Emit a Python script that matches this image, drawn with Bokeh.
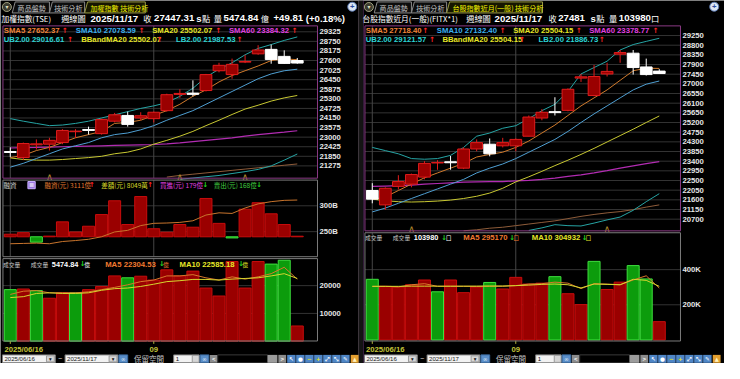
from bokeh.plotting import figure
from bokeh.models import Range1d, ColumnDataSource
from bokeh.embed import file_html
from bokeh.resources import INLINE
from bokeh.core.properties import value

# ---------------- data ----------------
weeks = ["2025/06/16", "2025/06/23", "2025/06/30", "2025/07/07", "2025/07/14", "2025/07/21",
         "2025/07/28", "2025/08/04", "2025/08/11", "2025/08/18", "2025/08/25", "2025/09/01",
         "2025/09/08", "2025/09/15", "2025/09/22", "2025/09/29", "2025/10/06", "2025/10/13",
         "2025/10/20", "2025/10/27", "2025/11/03", "2025/11/10", "2025/11/17"]
grid_weeks = [0, 11]

# TSE weighted index (weekly)
tse_open = [22137, 21773, 22540, 22578, 22674, 23326, 23460, 23210, 23958, 24303, 24150, 24111,
            24591, 25568, 25645, 25798, 26986, 26756, 27504, 28002, 28270, 27849, 27600]
tse_high = [22386, 22674, 22865, 22961, 23479, 23479, 23632, 24111, 24456, 24533, 24495, 24533,
            25607, 25875, 26411, 26795, 27465, 27715, 27945, 28520, 28558, 28213, 27753]
tse_low = [21811, 21620, 22252, 22195, 22578, 22961, 23153, 23153, 23881, 23632, 24016, 23881,
           24533, 25357, 25453, 25741, 26891, 26507, 27446, 27945, 27408, 27408, 27408]
tse_close = [22080, 22616, 22597, 22808, 23402, 23364, 23402, 24054, 24341, 23766, 24284, 24495,
             25549, 25625, 25568, 26756, 27312, 27370, 27542, 28232, 27657, 27427, 27447.31]
tse_sma5 = [21773, 21907, 22195, 22386, 22674, 22961, 23153, 23345, 23824, 23881, 24016, 24303,
            24591, 24974, 25453, 25836, 26316, 26699, 26986, 27274, 27599, 27695, 27652.37]
tse_sma10 = [21198, 21428, 21716, 22003, 22291, 22482, 22674, 22961, 23153, 23249, 23441, 23690,
             24016, 24303, 24591, 24974, 25357, 25741, 26124, 26507, 26795, 26986, 27078.59]
tse_sma20 = [21754, 21658, 21620, 21620, 21658, 21716, 21773, 21850, 22003, 22099, 22291, 22578,
             22808, 23057, 23345, 23690, 24016, 24361, 24686, 24916, 25165, 25357, 25502.07]
tse_sma60 = [22348, 22368, 22386, 22405, 22425, 22444, 22463, 22482, 22501, 22521, 22540, 22559,
             22597, 22655, 22731, 22808, 22885, 22961, 23057, 23153, 23230, 23306, 23384.32]
tse_ub = [24111, 23958, 23824, 23690, 23728, 23824, 23958, 24150, 24341, 24533, 24725, 24878,
          25069, 25453, 25932, 26603, 27082, 27465, 27945, 28328, 28558, 28807, 29016.61]
tse_lb_first = 13
tse_lb = [20470, 20546, 20623, 20700, 20815, 20930, 21064, 21274, 21620, 21987.53]
tse_long_first = 12
tse_long = [20604, 20700, 20776, 20853, 20930, 21006, 21083, 21160, 21236, 21313, 21390]
tse_chev = [3, 13, 18]
tse_chev_level = 20620
tse_ticks = [29325, 28750, 28175, 27600, 27025, 26450, 25875, 25300, 24725, 24150, 23575,
             23000, 22425, 21850, 21275]
tse_chg = 49.81
tse_chg_pct = 0.18

# margin financing (融資)
margin_chg = [6.7, 10.8, -14, 1.7, 39, 12.5, 27.5, 58, 94, 32, 105, 21, 12, 32, 25, 100, 35,
              -3, 72, 89, 60, 32, 1.5]           # 億
margin_bal = [226.6, 227.2, 227.8, 226.6, 230.9, 232.8, 235.2, 240.1, 249.4, 252.5, 261.7, 266.1,
              266.7, 267.9, 271.0, 282.1, 286.4, 285.2, 295.7, 303.7, 308.0, 310.5, 311.1]  # B
margin_ticks = [300, 250]
margin_diff_wan = 8049
margin_buy = 179
margin_sell = 168

# TSE volume (億)
tse_vol = [18561, 18790, 18216, 15458, 17412, 17412, 18561, 19712, 23505, 22816, 23390, 22010,
           25687, 23505, 25227, 19136, 16263, 28674, 19136, 28674, 27756, 29136, 5474.84]
tse_vol_dir = ["d", "u", "d", "u", "u", "d", "u", "u", "u", "d", "u", "u", "u", "u", "u", "u",
               "u", "u", "u", "u", "d", "d", "u"]
tse_vol_ma5 = [16840, 17990, 18220, 17410, 17410, 17410, 17760, 18560, 19370, 20290, 21440, 22010,
               23500, 23500, 23960, 22810, 22010, 23160, 22350, 23160, 24310, 26610, 22304.53]
tse_vol_ma10 = [15690, 16030, 17180, 17410, 17180, 17180, 17410, 18330, 18910, 19140, 19710, 20520,
                21440, 21780, 22240, 22240, 22010, 22350, 22580, 22810, 23500, 24310, 22585.18]
tse_vol_ticks = [20000, 10000]

# TAIEX futures near month (FITX*1, weekly)
fitx_open = [22034, 21364, 22227, 22331, 22658, 23316, 23372, 23075, 23967, 24190, 24115, 24115,
             24562, 25409, 25706, 25766, 27268, 26456, 27461, 28383, 28428, 27788, 27595]
fitx_high = [22376, 22182, 22747, 22822, 23402, 23446, 23640, 24041, 24413, 24458, 24487, 24458,
             25528, 25826, 26376, 26792, 27461, 27878, 27982, 28577, 28577, 28175, 27684]
fitx_low = [21439, 21141, 22078, 22182, 22554, 23000, 23000, 23030, 23863, 23625, 24041, 23863,
            24562, 25305, 25528, 25722, 27090, 26420, 27342, 27982, 27432, 27387, 27461]
fitx_close = [21632, 22138, 22450, 22777, 23298, 23342, 23327, 23967, 24264, 23744, 24264, 24413,
              25454, 25677, 25662, 26747, 27327, 27342, 27580, 28457, 27759, 27432, 27481]
fitx_sma5 = [21617, 21736, 22034, 22331, 22628, 22852, 23075, 23298, 23595, 23714, 23818, 24041,
             24339, 24710, 25082, 25528, 25974, 26346, 26718, 27164, 27610, 27729, 27718.40]
fitx_sma10 = [21038, 21216, 21439, 21662, 21885, 22108, 22331, 22554, 22852, 23075, 23268, 23521,
              23818, 24115, 24413, 24785, 25201, 25602, 25974, 26346, 26718, 26985, 27132.40]
fitx_sma20 = [21632, 21558, 21513, 21498, 21513, 21543, 21588, 21662, 21766, 21915, 22138, 22435,
              22673, 22926, 23193, 23446, 23714, 23996, 24294, 24591, 24889, 25201, 25504.15]
fitx_sma60 = [22227, 22242, 22257, 22286, 22331, 22361, 22391, 22420, 22435, 22450, 22450, 22480,
              22510, 22554, 22614, 22688, 22762, 22852, 22956, 23075, 23179, 23283, 23378.77]
fitx_ub = [24041, 23893, 23744, 23521, 23491, 23521, 23670, 24041, 24562, 24710, 24933, 25052,
           25380, 25751, 26049, 26644, 27461, 27759, 28056, 28577, 28829, 28978, 29121.57]
fitx_lb_first = 12
fitx_lb = [20175, 20294, 20443, 20398, 20383, 20517, 20666, 20799, 21112, 21513, 21886.73]
fitx_long_first = 7
fitx_long = [20160, 20205, 20279, 20324, 20398, 20473, 20547, 20621, 20725, 20830, 20919, 20993,
             21053, 21142, 21261, 21364]
fitx_chev = [3, 18]
fitx_chev_level = 20260
fitx_ticks = [29250, 28800, 28350, 27900, 27450, 27000, 26550, 26100, 25650, 25200, 24750, 24300,
              23850, 23400, 22950, 22500, 22050, 21600, 21150, 20700]

# FITX volume (contracts)
fitx_vol = [345000, 305000, 301000, 314000, 341000, 274000, 341000, 269000, 301000, 327000, 290000,
            356000, 318000, 323000, 360000, 263000, 201000, 447000, 287000, 329000, 423000, 347000,
            103980]
fitx_vol_dir = ["d", "u", "u", "u", "u", "d", "u", "u", "u", "d", "u", "u", "u", "u", "d", "u",
                "u", "d", "u", "u", "d", "d", "u"]
fitx_vol_ma5 = [305000, 305000, 302000, 314000, 320000, 305000, 305000, 305000, 305000, 305000,
                305000, 309000, 318000, 320000, 329000, 323000, 292000, 320000, 318000, 314000,
                341000, 365000, 295170]
fitx_vol_ma10 = [305000, 305000, 305000, 306000, 306000, 306000, 306000, 306000, 306000, 307000,
                 307000, 309000, 312000, 316000, 318000, 314000, 296000, 318000, 316000, 314000,
                 345000, 339000, 304932]
fitx_vol_ticks = [400000, 200000]

# ---------------- figure ----------------
DW, DH = 740, 379          # reference design space
S = 0.965                  # text scale to fit 724x363

LAT = "Liberation Sans"
CJK = "Noto Sans CJK TC"
SYM = "DejaVu Sans"

p = figure(width=724, height=363, x_range=Range1d(0, DW), y_range=Range1d(DH, 0),
           output_backend="svg", toolbar_location=None, min_border=0,
           x_axis_type=None, y_axis_type=None,
           background_fill_color="#000000", border_fill_color="#000000",
           outline_line_color=None)


def yrange(pa, va, pb, vb):
    k = (vb - va) / (pb - pa)
    return Range1d(start=va + (DH - pa) * k, end=va + (0 - pa) * k)


def xrange(pa, va, pb, vb):
    k = (vb - va) / (pb - pa)
    return Range1d(start=va + (0 - pa) * k, end=va + (DW - pa) * k)


p.extra_x_ranges = {"L": xrange(10, 0, 303.33, 22), "R": xrange(380, 0, 673.33, 22)}
p.extra_y_ranges = {
    "LP": yrange(42.67, 28750, 172.67, 21275),
    "RP": yrange(46.67, 28800, 228.3, 20700),
    "LM": yrange(246.7, 0, 206.7, 100),
    "LB": yrange(214.33, 300, 241.33, 250),
    "LV": yrange(297.7, 20000, 326.7, 10000),
    "RV": yrange(281.0, 400000, 317.7, 200000),
}

# panel boxes (design px): left, right, top, bottom
L_MAIN = (2.5, 324, 26.5, 185.5)
L_MRG = (2.5, 324, 187.5, 267.5)
L_VOL = (2.5, 324, 269.5, 355.5)
R_MAIN = (372.5, 695, 26.5, 240.5)
R_VOL = (372.5, 695, 242.5, 355.5)

RED_F, RED_L = "#9a0000", "#e01c1c"
GRN_F, GRN_L = "#0c9c0c", "#3ee03e"
C_SMA5, C_SMA10, C_SMA20, C_SMA60 = "#d07a2c", "#4f9fd2", "#c8c832", "#b22cb2"
C_BB, C_LONG = "#26a4a4", "#8e5c3a"
T_SMA5, T_SMA10, T_SMA20, T_SMA60, T_BB = "#f0843a", "#3cb0f0", "#e6e628", "#e040e0", "#2cd4d4"
UPC, DNC = "#ff2424", "#22dd22"

# ---- chrome collections ----
Q = {"l": [], "r": [], "t": [], "b": [], "fc": [], "fa": [], "lc": [], "la": []}


def R(l, r, t, b, fill=None, line=None):
    Q["l"].append(l); Q["r"].append(r); Q["t"].append(t); Q["b"].append(b)
    Q["fc"].append(fill or "#000000"); Q["fa"].append(1 if fill else 0)
    Q["lc"].append(line or "#000000"); Q["la"].append(1 if line else 0)


TX = {"x": [], "y": [], "text": [], "color": [], "size": [], "style": [], "font": [], "align": []}


def T(x, y, s, color="#ffffff", size=8, bold=False, font=LAT, align="left"):
    TX["x"].append(x); TX["y"].append(y); TX["text"].append(s)
    TX["color"].append(color); TX["size"].append(f"{size * S:.2f}px")
    TX["style"].append("bold" if bold else "normal"); TX["font"].append(font)
    TX["align"].append(align)


# separator between the two panels
R(366.5, 370.5, 0, DH, "#141414", None)
p.segment(x0=[366.5, 370.5], x1=[366.5, 370.5], y0=[0, 0], y1=[DH, DH],
          line_color=["#8a7a88", "#6a3a78"], line_width=1)

# ---- grids ----
def hgrid(box, ticks, yr):
    p.segment(x0=[box[0]] * len(ticks), x1=[box[1]] * len(ticks), y0=ticks, y1=ticks,
              y_range_name=yr, line_color="#333333", line_width=1)


def vgrid(boxes, xr):
    xs, y0, y1 = [], [], []
    for b in boxes:
        for g in grid_weeks:
            xs.append(g); y0.append(b[2]); y1.append(b[3])
    p.segment(x0=xs, x1=xs, y0=y0, y1=y1, x_range_name=xr, line_color="#464646", line_width=1)


hgrid(L_MAIN, tse_ticks, "LP")
hgrid(R_MAIN, fitx_ticks, "RP")
hgrid(L_MRG, margin_ticks, "LB")
hgrid(L_VOL, tse_vol_ticks, "LV")
hgrid(R_VOL, fitx_vol_ticks, "RV")
vgrid([L_MAIN, L_MRG, L_VOL], "L")
vgrid([R_MAIN, R_VOL], "R")

# box outlines
for b in (L_MAIN, R_MAIN):
    R(b[0], b[1], b[2], b[3], None, "#8a3a84")
for b in (L_MRG, L_VOL, R_VOL):
    R(b[0], b[1], b[2], b[3], None, "#7c7c7c")

# ---- tabs ----
def tabs(ox, active):
    xs = [[ox + 12, ox + 15, ox + 50, ox + 50], [ox + 50, ox + 53, ox + 86, ox + 86]]
    ys = [[13, 1.5, 1.5, 13], [13, 1.5, 1.5, 13]]
    aw = 62 if ox == 0 else 98
    xs.append([ox + 86, ox + 89, ox + 86 + aw, ox + 86 + aw])
    ys.append([13, 1.5, 1.5, 13])
    p.patches(xs, ys, fill_color=["#0c0c0c", "#0c0c0c", "#161600"],
              line_color=["#8a8a8a", "#8a8a8a", "#9a9a44"], line_width=1)
    p.scatter([ox + 6.5], [6.8], size=9, fill_color="#3c3c30", line_color="#a0a080")
    T(ox + 6.5, 6.8, "▾", "#e0e0c0", 6, font=SYM, align="center")
    T(ox + 17.5, 7.6, "商品盤勢", "#c4c4c4", 7.3, font=CJK)
    T(ox + 55, 7.6, "技術分析", "#c4c4c4", 7.3, font=CJK)
    T(ox + 92, 7.6, active, "#f2f200", 7.3, font=CJK)
    p.scatter([ox + 359.5], [6.5], size=9, fill_color="#dce6f4", line_color="#5a78b0")
    T(ox + 359.5, 6.5, "+", "#2a4aa0", 8, bold=True, align="center")


tabs(0, "加權指數 技術分析")
tabs(370, "台股指數近月(一般) 技術分析")

# ---- titles ----
YT = 18.5
T(1, YT, "加權指數(TSE)", font=CJK, size=8)
T(62, YT, "週線圖", font=CJK, size=8.5)
T(92, YT, weeks[-1], size=10, bold=True)
T(146, YT, "收", font=CJK, size=8.5)
T(157, YT, f"{tse_close[-1]:.2f}", size=10, bold=True)
T(200, YT, "s", size=10, bold=True)
T(206, YT, "點", font=CJK, size=8.5)
T(218, YT, "量", font=CJK, size=8.5)
T(228, YT, f"{tse_vol[-1]:.2f}", size=10, bold=True)
T(266, YT, "億", font=CJK, size=8.5)
T(279, YT, f"+{tse_chg:.2f}", size=10, bold=True)
T(312, YT, f"(+{tse_chg_pct:.2f}%)", size=10, bold=True)

T(370, YT, "台股指數近月(一般)(FITX*1)", font=CJK, size=8)
T(476, YT, "週線圖", font=CJK, size=8.5)
T(505, YT, weeks[-1], size=10, bold=True)
T(560, YT, "收", font=CJK, size=8.5)
T(570, YT, f"{fitx_close[-1]:.0f}", size=10, bold=True)
T(603, YT, "s", size=10, bold=True)
T(609, YT, "點", font=CJK, size=8.5)
T(622, YT, "量", font=CJK, size=8.5)
T(632, YT, f"{fitx_vol[-1]:.0f}", size=10, bold=True)
T(665, YT, "口", font=CJK, size=8.5)

# ---- main legends ----
def legend_main(ox, s5, s10, s20, s60, ub, mid, lb, pos):
    r1, r2 = 31.2, 40.2
    entries = [
        (r1, f"SMA5 {s5:.2f}", T_SMA5), (r1, f"SMA10 {s10:.2f}", T_SMA10),
        (r1, f"SMA20 {s20:.2f}", T_SMA20), (r1, f"SMA60 {s60:.2f}", T_SMA60),
        (r2, f"UB2.00 {ub:.2f}", T_BB), (r2, f"BBandMA20 {mid:.2f}", T_SMA20),
        (r2, f"LB2.00 {lb:.2f}", T_BB)]
    for (yy, s, c), (x0, xa) in zip(entries, pos):
        T(ox + x0, yy, s, c, 8, bold=True)
        T(ox + xa, yy, "↑", UPC, 7.5, bold=True, font=SYM)


legend_main(0, tse_sma5[-1], tse_sma10[-1], tse_sma20[-1], tse_sma60[-1], tse_ub[-1],
            tse_sma20[-1], tse_lb[-1],
            [(3.3, 62.5), (77, 141), (155, 219.5), (233.5, 297.5), (3.3, 68), (82.5, 159.5),
             (179.3, 241.3)])
legend_main(370, fitx_sma5[-1], fitx_sma10[-1], fitx_sma20[-1], fitx_sma60[-1], fitx_ub[-1],
            fitx_sma20[-1], fitx_lb[-1],
            [(3.3, 61), (76, 140), (154, 218), (231.7, 296.5), (3.3, 68), (81.7, 160),
             (180, 241.5)])

# ---- axis tick labels (through extra ranges) ----
def ticklabels(x, ticks, labels, yr):
    p.text(x=[x] * len(ticks), y=ticks, text=labels, y_range_name=yr, text_color="#e6e6e6",
           text_font=value(LAT), text_font_style="bold", text_font_size=f"{8 * S:.2f}px",
           text_baseline="middle", text_align="left")


ticklabels(326, tse_ticks, [str(t) for t in tse_ticks], "LP")
ticklabels(697, fitx_ticks, [str(t) for t in fitx_ticks], "RP")
ticklabels(326, margin_ticks, [f"{t}B" for t in margin_ticks], "LB")
ticklabels(326, tse_vol_ticks, [str(t) for t in tse_vol_ticks], "LV")
ticklabels(697, fitx_vol_ticks, [f"{t // 1000}K" for t in fitx_vol_ticks], "RV")

# ---- bars ----
def vol_bars(vals, dirs, xr, yr, width=0.92):
    idx = list(range(len(vals)))
    fc = [GRN_F if d == "d" else RED_F for d in dirs]
    lc = [GRN_L if d == "d" else "#c80c0c" for d in dirs]
    src = ColumnDataSource(dict(x=idx, top=vals, fc=fc, lc=lc))
    p.vbar(x="x", top="top", bottom=0, width=width, fill_color="fc", line_color="lc",
           source=src, x_range_name=xr, y_range_name=yr)


vol_bars(tse_vol, tse_vol_dir, "L", "LV")
vol_bars(fitx_vol, fitx_vol_dir, "R", "RV")
vol_bars(margin_chg, ["d" if v < 0 else "u" for v in margin_chg], "L", "LM")

n = len(weeks)
idx = list(range(n))
p.line(idx, margin_bal, x_range_name="L", y_range_name="LB", line_color="#c8742c", line_width=1)
p.line(idx, tse_vol_ma5, x_range_name="L", y_range_name="LV", line_color="#d8782c", line_width=1)
p.line(idx, tse_vol_ma10, x_range_name="L", y_range_name="LV", line_color="#d6d62e", line_width=1)
p.line(idx, fitx_vol_ma5, x_range_name="R", y_range_name="RV", line_color="#d8782c", line_width=1)
p.line(idx, fitx_vol_ma10, x_range_name="R", y_range_name="RV", line_color="#d6d62e", line_width=1)

# ---- price overlays ----
def overlays(xr, yr, s5, s10, s20, s60, ub, lb, lb0, lg, lg0):
    p.line(idx, s60, x_range_name=xr, y_range_name=yr, line_color=C_SMA60, line_width=1.2)
    p.line(idx, s20, x_range_name=xr, y_range_name=yr, line_color=C_SMA20, line_width=1)
    p.line(idx, s10, x_range_name=xr, y_range_name=yr, line_color=C_SMA10, line_width=1)
    p.line(idx, ub, x_range_name=xr, y_range_name=yr, line_color=C_BB, line_width=1)
    p.line(list(range(lg0, lg0 + len(lg))), lg, x_range_name=xr, y_range_name=yr,
           line_color=C_LONG, line_width=1)
    p.line(list(range(lb0, lb0 + len(lb))), lb, x_range_name=xr, y_range_name=yr,
           line_color=C_BB, line_width=1)
    p.line(idx, s5, x_range_name=xr, y_range_name=yr, line_color=C_SMA5, line_width=1)


overlays("L", "LP", tse_sma5, tse_sma10, tse_sma20, tse_sma60, tse_ub, tse_lb, tse_lb_first,
         tse_long, tse_long_first)
overlays("R", "RP", fitx_sma5, fitx_sma10, fitx_sma20, fitx_sma60, fitx_ub, fitx_lb,
         fitx_lb_first, fitx_long, fitx_long_first)


def candles(o, h, l, c, xr, yr, width=0.9):
    up = [ci >= oi for oi, ci in zip(o, c)]
    src = ColumnDataSource(dict(
        x=idx, hi=h, lo=l,
        top=[max(a, b) for a, b in zip(o, c)], bot=[min(a, b) for a, b in zip(o, c)],
        fc=[RED_F if u else "#ffffff" for u in up], lc=[RED_L if u else "#ffffff" for u in up]))
    p.segment(x0="x", x1="x", y0="hi", y1="lo", line_color="lc", line_width=1, source=src,
              x_range_name=xr, y_range_name=yr)
    p.vbar(x="x", top="top", bottom="bot", width=width, fill_color="fc", line_color="lc",
           line_width=1, source=src, x_range_name=xr, y_range_name=yr)


candles(tse_open, tse_high, tse_low, tse_close, "L", "LP")
candles(fitx_open, fitx_high, fitx_low, fitx_close, "R", "RP")

# chevron markers
for xs, lev, xr, yr in ((tse_chev, tse_chev_level, "L", "LP"), (fitx_chev, fitx_chev_level, "R", "RP")):
    p.text(x=xs, y=[lev] * len(xs), text=["∧"] * len(xs), x_range_name=xr, y_range_name=yr,
           text_color="#b08a2c", text_font=value(SYM), text_font_size=f"{10 * S:.2f}px",
           text_align="center", text_baseline="middle")

# ---- sub-panel legends ----
YM = 192.7
T(3, YM, "融資", "#d0d0d0", 6.8, font=CJK)
R(28, 35.5, 189, 196.5, "#9c78e0", "#c8b0ff")
T(31.75, YM, "≡", "#ffffff", 7, font=SYM, align="center")
T(45, YM, f"融資(元) {margin_bal[-1] * 10:.0f}億", "#e07a30", 6.8, font=CJK)
T(90.5, YM, "↑", UPC, 7, bold=True, font=SYM)
T(103, YM, f"差額(元) {margin_diff_wan}萬", "#d8d828", 6.8, font=CJK)
T(150, YM, "↑", UPC, 7, bold=True, font=SYM)
T(163, YM, f"買進(元) {margin_buy}億", "#e040e0", 6.8, font=CJK)
T(206.5, YM, "↓", DNC, 7, bold=True, font=SYM)
T(218, YM, f"賣出(元) {margin_sell}億", "#40d040", 6.8, font=CJK)
T(261.5, YM, "↓", DNC, 7, bold=True, font=SYM)


def vol_legend(ox, yy, v, m5, m10, unit, fmt):
    T(ox + 2.5, yy, "成交量", "#c8c8c8", 6, font=CJK)
    T(ox + 31, yy, "成交量", "#c8c8c8", 6, font=CJK)
    T(ox + 52.5, yy, fmt(v), "#ffffff", 7.6, bold=True)
    xa = ox + (81 if ox == 0 else 80.5)
    T(xa, yy, "↓", DNC, 7, bold=True, font=SYM)
    T(xa + 4.5, yy, unit, "#ffffff", 6, font=CJK)
    a = ox + (107 if ox == 0 else 103)
    s5 = f"MA5 {fmt(m5)}"
    T(a, yy, s5, "#f07a30", 8, bold=True)
    b = a + (55 if ox == 0 else 47)
    T(b, yy, "↓", DNC, 7, bold=True, font=SYM)
    T(b + 4, yy, unit, "#f07a30", 6, font=CJK)
    c = ox + (183 if ox == 0 else 173)
    T(c, yy, f"MA10 {fmt(m10)}", "#e6e628", 8, bold=True)
    d = c + (60 if ox == 0 else 51)
    T(d, yy, "↓", DNC, 7, bold=True, font=SYM)
    T(d + 4, yy, unit, "#e6e628", 6, font=CJK)


vol_legend(0, 275.3, tse_vol[-1], tse_vol_ma5[-1], tse_vol_ma10[-1], "億", lambda v: f"{v:.2f}")
vol_legend(370, 247.5, fitx_vol[-1], fitx_vol_ma5[-1], fitx_vol_ma10[-1], "口", lambda v: f"{v:.0f}")

# ---- date axis ----
for xr in ("L", "R"):
    p.segment(x0=grid_weeks, x1=grid_weeks, y0=[355.5] * 2, y1=[358.5] * 2, x_range_name=xr,
              line_color="#b4b43c", line_width=1)
    p.text(x=[grid_weeks[1]], y=[364.0], text=[weeks[grid_weeks[1]][5:7]], x_range_name=xr,
           text_color="#c4c43a", text_font=value(LAT), text_font_style="bold",
           text_font_size=f"{8 * S:.2f}px", text_align="center", text_baseline="middle")
T(4, 364.0, weeks[0], "#c4c43a", 8, bold=True)
T(373.5, 364.0, weeks[0], "#c4c43a", 8, bold=True)

# ---- bottom toolbars ----
def toolbar(ox):
    y0, y1, ym = 370.0, 378.3, 373.9
    for a, b, s in ((2, 56, weeks[0]), (66, 120, weeks[-1])):
        R(ox + a, ox + b, y0, y1, "#f2f2f2", "#7a7a7a")
        R(ox + b - 9, ox + b - 1, y0 + 1, y1 - 1, "#d6d6d6", "#9a9a9a")
        T(ox + a + 2, ym, s, "#1a1a1a", 6.3)
        T(ox + b - 5, ym, "▾", "#101010", 5.5, font=SYM, align="center")
    T(ox + 59, ym - 0.5, "~", "#e0e0e0", 7)
    R(ox + 121, ox + 130, y0, y1, "#5a8ec8", "#3a6aa0")
    T(ox + 125.5, ym, "∞", "#ffffff", 5.5, font=SYM, align="center")
    T(ox + 136.5, ym, "保留空間", "#c8c8c8", 7.8, font=CJK)
    R(ox + 177, ox + 203, y0, y1, "#f2f2f2", "#7a7a7a")
    T(ox + 179, ym, "1", "#101010", 6.3)
    R(ox + 196, ox + 203, y0 + 0.5, y1 - 0.5, "#d6d6d6", "#9a9a9a")
    R(ox + 204, ox + 213, y0, y1, "#5a8ec8", "#3a6aa0")
    T(ox + 208.5, ym, "∞", "#ffffff", 5.5, font=SYM, align="center")
    R(ox + 214, ox + 222, y0, y1, "#8c8c8c", None)
    T(ox + 218, ym, "<", "#ffffff", 6.3, bold=True, align="center")
    R(ox + 222, ox + 273, y0, y1, "#000000", "#3a3a3a")
    R(ox + 273, ox + 283, y0, y1, "#9c9c9c", None)
    R(ox + 284, ox + 292, y0, y1, "#8c8c8c", None)
    T(ox + 288, ym, ">", "#ffffff", 6.3, bold=True, align="center")
    icons = [("↖", "#ffffff"), ("●", "#ffffff"), ("−", "#f0f000"), ("+", "#f0f000"),
             ("⤢", "#ffffff"), ("⤡", "#ffffff"), ("✎", "#ffffff")]
    for k, (g, c) in enumerate(icons):
        xx = ox + 293 + k * 9.2
        R(xx, xx + 8.6, y0, y1, "#4f86c6", None)
        T(xx + 4.3, ym, g, c, 5.8, bold=True, font=SYM, align="center")
    R(ox + 358, ox + 366, y0, y1, "#e4a030", None)
    T(ox + 362, ym, "▲", "#fff2c0", 5.5, font=SYM, align="center")


toolbar(0)
toolbar(370)

# ---- render chrome ----
p.quad(left="l", right="r", top="t", bottom="b", fill_color="fc", fill_alpha="fa",
       line_color="lc", line_alpha="la", source=ColumnDataSource(Q))
p.text(x="x", y="y", text="text", text_color="color", text_font_size="size",
       text_font_style="style", text_font="font", text_align="align", text_baseline="middle",
       source=ColumnDataSource(TX))

open("out.html", "w").write(file_html(p, INLINE))
